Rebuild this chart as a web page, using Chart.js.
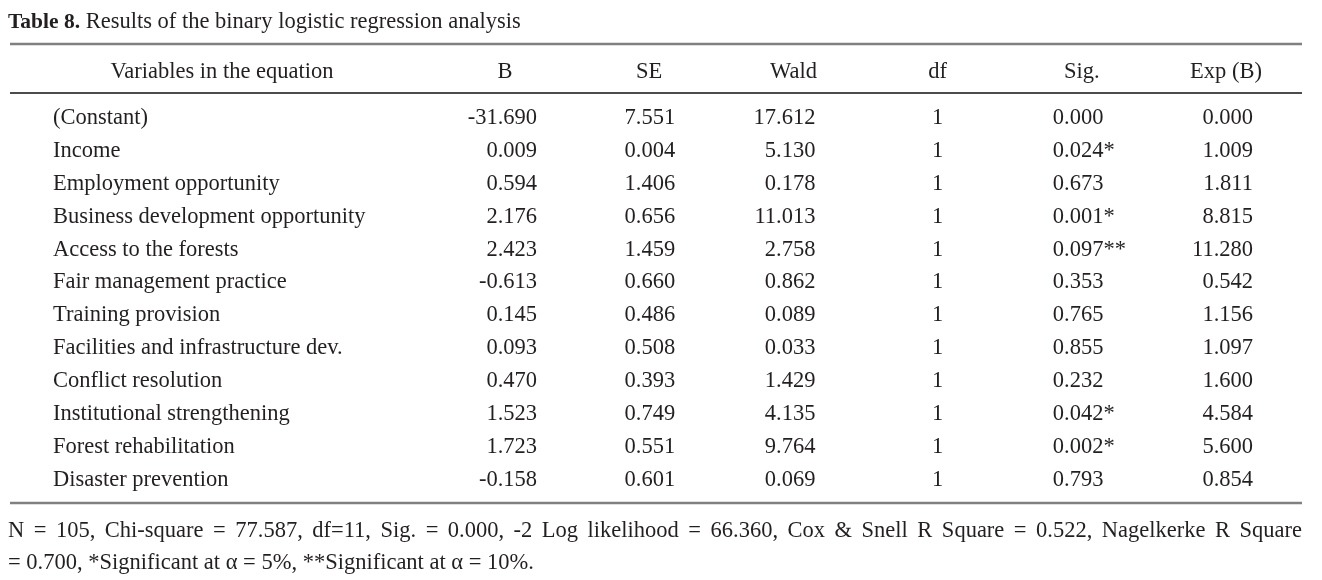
<!DOCTYPE html>
<html>
<head>
<meta charset="utf-8">
<script src="https://cdn.jsdelivr.net/npm/chart.js@4/dist/chart.umd.min.js"></script>
<style>
  body { margin: 0; background: #fff; }
  #wrap { width: 1322px; height: 580px; }
</style>
</head>
<body>
<div id="wrap"><canvas id="table" width="1322" height="580"></canvas></div>
<script>
// table data
const variables = ['(Constant)', 'Income', 'Employment opportunity', 'Business development opportunity',
  'Access to the forests', 'Fair management practice', 'Training provision',
  'Facilities and infrastructure dev.', 'Conflict resolution', 'Institutional strengthening',
  'Forest rehabilitation', 'Disaster prevention'];
const bValues    = [-31.690, 0.009, 0.594, 2.176, 2.423, -0.613, 0.145, 0.093, 0.470, 1.523, 1.723, -0.158];
const seValues   = [7.551, 0.004, 1.406, 0.656, 1.459, 0.660, 0.486, 0.508, 0.393, 0.749, 0.551, 0.601];
const waldValues = [17.612, 5.130, 0.178, 11.013, 2.758, 0.862, 0.089, 0.033, 1.429, 4.135, 9.764, 0.069];
const dfValues   = [1, 1, 1, 1, 1, 1, 1, 1, 1, 1, 1, 1];
const sigValues  = [0.000, 0.024, 0.673, 0.001, 0.097, 0.353, 0.765, 0.855, 0.232, 0.042, 0.002, 0.793];
const sigMarks   = ['', '*', '', '*', '**', '', '', '', '', '*', '*', ''];
const expValues  = [0.000, 1.009, 1.811, 8.815, 11.280, 0.542, 1.156, 1.097, 1.600, 4.584, 5.600, 0.854];
const headers = ['Variables in the equation', 'B', 'SE', 'Wald', 'df', 'Sig.', 'Exp (B)'];
const titleBold = 'Table 8.';
const titleText = ' Results of the binary logistic regression analysis';
const noteLine1 = 'N = 105, Chi-square = 77.587, df=11, Sig. = 0.000, -2 Log likelihood = 66.360, Cox & Snell R Square = 0.522, Nagelkerke R Square';
const noteLine2 = '= 0.700, *Significant at \u03B1 = 5%, **Significant at \u03B1 = 10%.';

// layout
const FONT = '"Liberation Serif", "Times New Roman", serif';
const SIZE = 22.5;
const INK = '#231f20';
const colPos = [-0.963, 1, 2, 3, 4, 5, 6];
// align and pixel shift of the cell text from the column anchor
const colAlign = [['left', -169], ['right', 32], ['right', 26], ['right', 22], ['center', 0], ['left', -29], ['right', 27]];
const headerRow = -1.4, topRule = -2.25, headRule = -0.76, bottomRule = 11.7, note1Row = 12.55, note2Row = 13.52;

const fmt = v => v.toFixed(3);
const columns = [
  variables,
  bValues.map(fmt),
  seValues.map(fmt),
  waldValues.map(fmt),
  dfValues.map(String),
  sigValues.map((v, i) => fmt(v) + sigMarks[i]),
  expValues.map(fmt)
];

const tableText = {
  id: 'tableText',
  afterDatasetsDraw(chart) {
    const { ctx, chartArea, scales } = chart;
    const x = scales.x, y = scales.y;
    ctx.save();
    ctx.fillStyle = INK;
    ctx.textBaseline = 'middle';
    ctx.font = SIZE + 'px ' + FONT;

    // header
    ctx.textAlign = 'center';
    headers.forEach((h, c) => ctx.fillText(h, x.getPixelForValue(colPos[c]), y.getPixelForValue(headerRow)));

    // cells
    chart.data.datasets.forEach((ds, d) => {
      const [align, shift] = colAlign[d];
      ctx.textAlign = align;
      chart.getDatasetMeta(d).data.forEach((el, i) => {
        ctx.fillText(ds.cells[i], el.x + shift, el.y);
      });
    });

    // rules
    const l = chartArea.left + 2, r = chartArea.right;
    const rule = (row, w, col) => {
      const py = y.getPixelForValue(row);
      ctx.strokeStyle = col; ctx.lineWidth = w;
      ctx.beginPath(); ctx.moveTo(l, py); ctx.lineTo(r, py); ctx.stroke();
    };
    rule(topRule, 2.5, '#808080');
    rule(headRule, 1.6, '#111');
    rule(bottomRule, 2.5, '#808080');

    // title
    ctx.textAlign = 'left';
    ctx.font = 'bold ' + (SIZE - 1) + 'px ' + FONT;
    ctx.fillText(titleBold, 8, 22);
    const bw = ctx.measureText(titleBold).width;
    ctx.font = SIZE + 'px ' + FONT;
    ctx.fillText(titleText, 8 + bw, 22);

    // notes, first line justified
    const words = noteLine1.split(' ');
    const widths = words.map(w => ctx.measureText(w).width);
    const total = widths.reduce((a, b) => a + b, 0);
    const gap = (r - 8 - total) / (words.length - 1);
    let px = 8;
    const n1 = y.getPixelForValue(note1Row);
    words.forEach((w, i) => { ctx.fillText(w, px, n1); px += widths[i] + gap; });
    ctx.fillText(noteLine2, 8, y.getPixelForValue(note2Row));
    ctx.restore();
  }
};

new Chart(document.getElementById('table'), {
  type: 'scatter',
  data: {
    datasets: columns.map((cells, c) => ({
      label: headers[c],
      cells: cells,
      data: cells.map((_, i) => ({ x: colPos[c], y: i })),
      pointRadius: 0,
      pointHoverRadius: 0
    }))
  },
  options: {
    responsive: false,
    animation: false,
    events: [],
    layout: { padding: { left: 8, right: 20, top: 101.5, bottom: 83.5 } },
    scales: {
      x: { type: 'linear', min: -2.447, max: 6.527, display: false },
      y: { type: 'linear', min: -0.5, max: 11.5, reverse: true, display: false }
    },
    plugins: { legend: { display: false }, tooltip: { enabled: false } }
  },
  plugins: [tableText]
});
</script>
</body>
</html>
